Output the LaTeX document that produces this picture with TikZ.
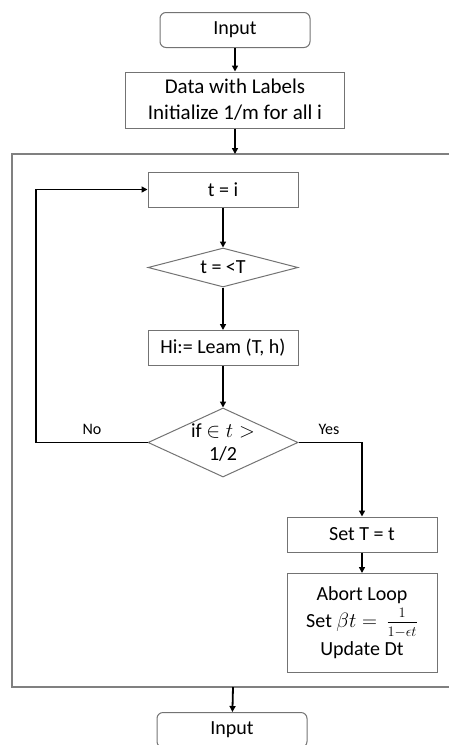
\documentclass[tikz,border=0pt]{standalone}
\usepackage{fontspec}
\setmainfont{Carlito}
\usepackage{amsmath}
\usetikzlibrary{shapes.geometric,arrows.meta}

\tikzset{
  box/.style = {draw = black!55, line width = 1pt, minimum width = 150pt, minimum height = 35pt,
                inner sep = 2pt, align = center, font = \fontsize{20}{26}\selectfont},
  term/.style = {box, rounded corners = 6pt},
  test/.style = {draw = black!55, line width = 1pt, diamond, inner sep = 0pt, minimum width = 150pt},
  testtext/.style = {align = center, font = \fontsize{20}{23}\selectfont},
  flow/.style = {line width = 1.8pt, -{Triangle[length = 6pt, width = 6pt]}},
  lbl/.style = {font = \fontsize{16}{18}\selectfont}
}

\begin{document}
\begin{tikzpicture}[x = 1pt, y = -1pt]
        \useasboundingbox (0, 0) rectangle (449, 745);
        \clip (0, 0) rectangle (449, 745);

        % outer frame, open on the right
        \draw [black!50, line width = 1.2pt] (449, 154) -- (12, 154) -- (12, 687) -- (449, 687);
        \coordinate (frametop) at (235, 154);
        \coordinate (framebot) at (233, 687);

        \node [term] (in) at (235, 30) {Input};
        \node [box, minimum width = 219pt, minimum height = 56pt, font = \fontsize{21}{26}\selectfont] (data) at (235, 100)
              {Data with Labels\\Initialize 1/m for all i};

        \node [box] (start) at (223, 189.5) {t = i};
        \node [test, minimum height = 39pt, label = {[testtext]center:t = {\textless}T}] (cond) at (223, 267.5) {};
        \node [box] (learn) at (223, 348) {Hi:= Leam (T, h)};
        \node [test, minimum height = 69pt, label = {[testtext]center:{if $\in t >$\\1/2}}] (err) at (223, 442.5) {};

        \node [box] (set) at (362, 534.5) {Set T = t};
        \node [box, minimum height = 99pt, font = \fontsize{20}{24}\selectfont] (abort) at (362, 623)
              {Abort Loop\\[3pt]Set $\beta t = \,\frac{\raisebox{2pt}{$\scriptstyle 1$}}{\lower2pt\hbox{$\scriptstyle 1-\epsilon t$}}$\\[3pt]Update Dt};

        \node [term] (out) at (232, 730) {Input};

        \draw [flow] (in) -- (data);
        \draw [flow] (data) -- (frametop);
        \draw [flow] (start) -- (cond);
        \draw [flow] (cond) -- (learn);
        \draw [flow] (learn) -- (err);
        \draw [flow] (err.west) -- (36, 442.5) |- (start.west);
        \draw [flow] (err.east) -| (set.north);
        \draw [flow] (set) -- (abort);
        \draw [flow] (framebot) -- (out);

        \node [lbl] (no) at (92, 429) {No};
        \node [lbl] (yes) at (329, 429) {Yes};
      \end{tikzpicture}
\end{document}
